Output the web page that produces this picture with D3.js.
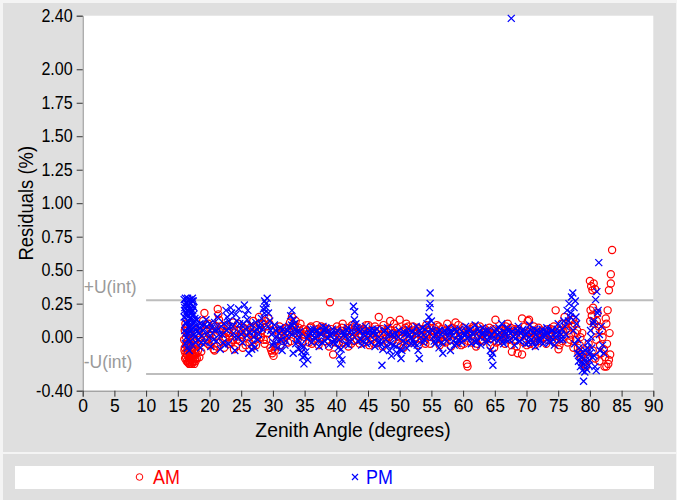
<!DOCTYPE html>
<html>
<head>
<meta charset="utf-8">
<script src="https://cdn.jsdelivr.net/npm/d3@7"></script>
<style>
  html, body { margin: 0; padding: 0; background: #ffffff; }
  svg { display: block; }
  text { font-family: "Liberation Sans", Arial, sans-serif; }
</style>
</head>
<body>
<svg id="chart" width="677" height="500"></svg>
<script>
// Residuals by zenith angle, morning (AM) and afternoon (PM) runs.
const xTicks = [0, 5, 10, 15, 20, 25, 30, 35, 40, 45, 50, 55, 60, 65, 70, 75, 80, 85, 90];
const yTicks = [-0.40, 0.00, 0.25, 0.50, 0.75, 1.00, 1.25, 1.50, 1.75, 2.00, 2.40];
const uInt = 0.275;   // expanded uncertainty of the interval, %
const seriesNames = ["AM", "PM"];

// [zenith angle (deg), residual (%)]
const amPoints = [
  [16.0,-0.02],[16.1,0.05],[16.1,-0.08],[16.2,-0.12],[16.2,0.10],[16.3,-0.15],[16.3,0.00],[16.4,-0.05],[16.4,-0.18],[16.5,0.08],
  [16.5,-0.10],[16.6,-0.19],[16.6,-0.03],[16.7,-0.14],[16.7,0.04],[16.8,-0.20],[16.8,-0.07],[16.9,-0.16],[16.9,0.02],[17.0,-0.19],
  [17.0,-0.11],[17.1,-0.04],[17.1,-0.17],[17.2,0.06],[17.2,-0.20],[17.3,-0.13],[17.3,-0.08],[17.4,-0.18],[17.5,-0.01],[17.5,-0.15],
  [17.6,-0.20],[17.7,-0.12],[17.8,-0.18],[17.9,-0.06],[18.0,-0.16],[18.1,0.03],[18.2,-0.10],[18.4,-0.15],[18.6,0.07],[18.8,-0.03],
  [16.15,-0.16],[16.45,-0.13],[16.75,-0.17],[17.05,-0.06],[17.35,-0.19],[17.65,-0.09],[16.55,0.03],[16.85,-0.12],[17.15,-0.15],
  [16.05,-0.10],[16.35,-0.06],[16.65,-0.11],[16.95,-0.20],[17.25,-0.10],[17.45,-0.14],[17.75,-0.16],[17.95,-0.12],[18.25,-0.05],
  [18.45,0.00],[18.7,-0.11],[16.25,0.07],[16.95,-0.01],[17.55,-0.04],
  [19.0,0.12],[19.2,0.18],[19.4,0.05],[19.6,-0.02],[19.8,0.10],[20.0,-0.06],[20.3,0.03],[20.5,0.09],[20.8,-0.10],[21.0,0.01],
  [21.3,0.21],[21.4,0.17],[21.5,0.13],[21.7,-0.04],[22.0,0.06],[22.3,-0.08],[22.5,0.00],[22.8,0.04],[23.0,-0.05],[23.3,0.08],
  [23.6,-0.02],[23.9,0.05],[24.2,-0.07],[24.5,0.10],[24.8,-0.03],[25.1,0.02],[25.4,0.07],[25.7,-0.06],[26.0,0.09],[26.3,-0.04],
  [26.6,0.03],[26.9,0.12],[27.2,-0.02],[27.5,0.06],[27.8,0.15],[28.1,0.00],[28.4,0.10],[28.7,-0.05],[29.0,0.08],[29.3,0.14],
  [29.6,-0.08],[29.9,-0.12],[30.1,-0.14],[30.3,-0.10],[30.6,-0.03],[30.9,0.02],[31.2,-0.06],[31.5,0.04],[31.8,0.00],[32.1,0.07],
  [32.4,-0.04],[32.7,0.11],[33.0,0.15],[33.3,0.05],[33.6,0.12],[33.9,-0.02],[34.2,0.03],[34.5,-0.08],[34.8,0.06],
  [19.95,0.02],[20.65,-0.09],[21.85,0.08],[22.95,0.03],[23.85,-0.09],[24.95,0.00],[25.85,0.04],[26.85,-0.07],[27.95,0.09],
  [28.95,-0.02],[31.05,0.08],[32.25,0.02],[33.45,0.08],[34.35,0.10],
  [19.15,0.00],[19.55,0.09],[19.75,-0.05],[20.15,0.06],[20.45,-0.03],[20.95,0.08],[21.2,-0.07],[21.6,0.04],[22.15,-0.02],
  [22.65,0.09],[23.15,0.01],[23.45,-0.04],[23.75,0.11],[24.05,0.03],[24.35,-0.02],[24.65,0.05],[25.25,-0.08],[25.55,0.03],
  [26.15,0.00],[26.45,0.07],[26.75,0.02],[27.05,0.08],[27.35,-0.06],[27.65,0.01],[28.25,0.05],[28.55,-0.02],[28.85,0.12],
  [29.15,0.03],[29.45,0.10],[29.75,-0.10],[30.45,-0.07],[30.75,0.05],[31.35,0.01],[31.65,-0.03],[31.95,0.06],[32.55,0.04],
  [32.85,-0.03],[33.15,0.09],[33.75,0.03],[34.05,0.07],[34.65,-0.03],[34.95,0.02],
  [35.1,0.00],[35.4,0.05],[35.7,-0.04],[36.0,0.08],[36.3,-0.02],[36.6,0.03],[36.9,0.09],[37.2,-0.06],[37.5,0.04],[37.8,-0.01],
  [38.1,0.07],[38.4,-0.03],[38.7,0.02],[39.0,0.26],[39.2,0.06],[39.5,-0.13],[39.8,0.01],[40.1,0.08],[40.4,-0.05],[40.7,0.03],
  [41.0,0.10],[41.3,-0.02],[41.6,0.05],[41.9,-0.07],[42.2,0.00],[42.5,0.09],[42.8,-0.03],[43.1,0.04],[43.4,0.07],[43.7,-0.05],
  [44.0,0.02],[44.3,0.06],[44.6,-0.02],[44.9,0.03],[45.2,-0.06],[45.5,0.05],[45.8,0.00],[46.1,0.08],[46.4,-0.04],[46.7,0.15],
  [47.0,0.02],[47.3,-0.07],[47.6,0.04],[47.9,-0.01],[48.2,0.06],[48.5,0.12],[48.8,-0.03],[49.1,0.10],[49.4,0.02],[49.7,-0.05],
  [50.0,0.13],[50.3,0.04],[50.6,-0.08],[50.9,0.07],[51.2,0.00],[51.5,0.05],[51.8,-0.04],[52.1,0.08],[52.4,-0.02],[52.7,0.03],
  [53.0,-0.06],[53.3,0.05],[53.6,0.01],[53.9,-0.03],[54.2,0.09],[54.5,0.04],[54.8,-0.05],[55.1,0.02],[55.4,0.07],[55.7,-0.02],
  [56.0,0.04],[56.3,-0.06],[56.6,0.06],[56.9,0.00],[57.2,-0.04],[57.5,0.10],[57.8,0.03],[58.1,-0.07],[58.4,0.05],[58.8,0.11],
  [59.1,-0.02],[59.4,0.04],[59.7,-0.06],[60.0,0.07],[60.3,0.01],[60.6,-0.20],[60.7,-0.22],[61.0,0.03],[61.3,-0.04],[61.6,0.08],
  [61.9,0.00],[62.2,-0.05],[62.5,0.05],[62.8,0.02],[63.1,-0.03],[63.4,0.06],[63.7,-0.01],[64.0,0.04],[64.3,-0.06],[64.6,0.03],
  [64.9,-0.08],[65.1,0.13],[65.4,0.02],[65.7,-0.03],[66.0,0.06],[66.3,0.00],[66.6,-0.05],[66.9,0.04],[67.2,-0.02],[67.5,0.07],
  [67.7,-0.11],[68.0,-0.03],[68.3,0.05],[68.6,-0.12],[68.9,0.02],[69.3,-0.13],[69.3,0.14],[69.6,-0.04],[69.9,0.03],[70.2,0.12],
  [70.4,0.13],[70.7,-0.02],[71.0,0.05],[71.3,-0.06],[71.6,0.02],[71.9,0.07],[72.2,-0.03],[72.5,0.04],[72.8,0.00],[73.1,-0.05],
  [73.4,0.06],[73.7,0.01],[74.0,-0.02],[74.3,0.08],[74.6,0.20],[74.9,0.03],[75.2,-0.06],[75.5,0.10],[75.8,0.04],
  [35.25,0.04],[36.15,-0.05],[37.05,0.06],[37.95,0.00],[38.85,-0.07],[40.25,0.05],[41.15,-0.04],[42.05,0.07],[43.25,-0.02],
  [44.15,0.05],[45.05,0.09],[45.95,-0.05],[47.15,0.06],[48.05,-0.04],[49.25,0.03],[50.15,-0.06],[51.05,0.10],[51.95,0.02],
  [53.15,0.06],[54.05,-0.05],[55.25,0.00],[56.15,0.08],[57.05,-0.03],[58.25,0.07],[59.25,0.09],[60.15,-0.05],[61.15,0.06],
  [62.05,-0.07],[63.25,0.03],[64.15,0.07],[65.25,-0.04],[66.15,0.05],[67.05,0.10],[68.15,0.06],[69.05,0.00],[70.05,-0.06],
  [71.15,0.08],[72.05,0.03],[73.25,-0.02],[74.15,0.05],[75.05,-0.09],
  [35.55,0.02],[35.85,0.07],[36.45,0.01],[36.75,-0.03],[37.35,0.05],[37.65,0.08],[38.25,0.03],[38.55,0.06],[39.35,0.00],
  [39.65,0.04],[39.95,-0.04],[40.55,0.02],[40.85,0.07],[41.45,0.03],[41.75,0.00],[42.35,-0.05],[42.65,0.04],[42.95,0.08],
  [43.55,0.01],[43.85,0.05],[44.45,-0.04],[44.75,0.09],[45.35,0.02],[45.65,-0.02],[46.25,0.03],[46.55,0.06],[46.85,-0.02],
  [47.45,0.09],[47.75,0.02],[48.35,0.00],[48.65,0.05],[48.95,0.03],[49.55,0.07],[49.85,0.01],[50.45,0.00],[50.75,0.05],
  [51.35,0.08],[51.65,-0.02],[52.25,0.05],[52.55,0.00],[52.85,0.07],[53.45,-0.02],[53.75,0.06],[54.35,0.02],[54.65,0.07],
  [54.95,0.00],[55.55,0.04],[55.85,0.09],[56.45,0.02],[56.75,-0.03],[57.35,0.05],[57.65,0.00],[57.95,0.06],[58.55,0.02],
  [58.95,-0.04],[59.55,0.01],[59.85,0.05],[60.45,0.04],[60.85,-0.03],[61.45,0.02],[61.75,0.07],[62.35,0.01],[62.65,0.08],
  [62.95,-0.02],[63.55,0.04],[63.85,0.00],[64.45,0.02],[64.75,0.06],[65.55,0.05],[65.85,0.00],[66.45,0.03],[66.75,0.08],
  [67.35,0.02],[67.65,-0.06],[67.95,0.04],[68.45,-0.07],[68.75,0.06],[69.45,0.02],[69.75,0.08],[70.35,0.04],[70.55,-0.05],
  [70.85,0.03],[71.45,0.00],[71.75,-0.03],[72.35,0.05],[72.65,-0.01],[72.95,0.03],[73.55,0.02],[73.85,0.06],[74.45,-0.04],
  [74.75,0.01],[75.35,0.05],[75.65,-0.03],
  [76.0,0.15],[76.3,0.06],[76.5,-0.04],[76.8,0.12],[77.0,0.02],[77.2,0.08],[77.4,-0.08],[77.6,0.10],[77.8,-0.02],[78.0,0.05],
  [78.2,-0.12],[78.4,-0.06],[78.6,-0.15],[78.8,0.03],[79.0,-0.20],[79.2,-0.10],[79.4,-0.22],[79.6,-0.16],[80.0,0.42],[80.2,0.38],
  [80.4,0.35],[80.6,0.40],[80.8,0.36],[80.1,0.20],[80.3,0.16],[80.5,0.22],[80.7,0.10],[80.9,0.05],[81.0,-0.02],[81.2,0.18],
  [81.4,0.08],[81.6,-0.06],[81.8,-0.12],[82.0,0.00],[82.2,-0.09],[82.4,-0.15],[82.6,0.10],[82.8,0.20],[82.9,-0.20],[83.0,0.35],
  [83.2,-0.13],[83.3,0.40],[83.3,0.47],[83.5,0.65],[82.6,-0.22],[83.1,0.03],
  [76.2,0.10],[76.6,0.05],[76.9,-0.02],[77.3,0.13],[77.7,0.03],[78.1,-0.08],[78.5,0.00],[78.9,-0.13],[79.3,-0.18],[79.8,-0.05],
  [80.05,0.12],[80.45,-0.10],[80.85,-0.16],[81.1,0.12],[81.5,-0.18],[81.9,0.05],[82.3,-0.22],[82.5,0.14],[82.7,-0.05],[83.0,-0.17]
];

const pmPoints = [
  [16.0,0.28],[16.0,0.15],[16.1,0.22],[16.1,0.05],[16.2,0.29],[16.2,-0.05],[16.3,0.18],[16.3,0.10],[16.4,0.26],[16.4,0.00],
  [16.5,0.20],[16.5,-0.08],[16.6,0.27],[16.6,0.12],[16.7,0.24],[16.7,0.03],[16.8,0.16],[16.8,-0.10],[16.9,0.28],[16.9,0.08],
  [17.0,0.21],[17.0,-0.03],[17.1,0.25],[17.1,0.13],[17.2,0.19],[17.2,0.06],[17.3,0.29],[17.3,-0.06],[17.4,0.23],[17.4,0.10],
  [17.5,0.17],[17.6,0.02],[17.7,0.14],[17.8,-0.04],[17.9,0.09],[18.0,0.04],[18.2,-0.02],[18.4,0.07],[18.6,-0.08],[18.8,0.01],
  [16.05,0.20],[16.35,0.25],[16.65,0.19],[16.95,0.14],[17.25,0.27],[17.55,0.22],[16.25,0.11],[16.75,0.07],
  [16.15,0.24],[16.45,0.16],[16.55,0.29],[16.85,0.22],[17.05,0.18],[17.15,0.08],[17.35,0.20],[17.45,0.27],[17.65,0.12],
  [17.85,0.06],[18.05,0.13],[18.3,0.03],[18.5,0.10],[18.7,-0.04],[16.3,0.03],[16.6,-0.02],[16.9,0.04],[17.7,0.00],
  [19.0,0.05],[19.3,-0.04],[19.6,0.08],[19.9,0.00],[20.2,-0.07],[20.5,0.03],[20.8,0.11],[21.1,-0.03],[21.4,0.06],[21.7,-0.09],
  [22.0,0.02],[22.3,0.10],[22.6,0.20],[22.8,0.15],[23.0,-0.05],[23.2,0.08],[23.5,0.18],[23.8,0.03],[24.0,-0.10],[24.3,0.12],
  [24.6,0.21],[24.9,0.06],[25.2,-0.04],[25.5,0.24],[25.7,0.17],[25.9,0.01],[26.2,-0.12],[26.5,0.09],[26.7,-0.05],[27.0,0.04],
  [27.3,0.11],[27.6,-0.02],[27.9,0.07],[28.2,0.14],[28.5,0.21],[28.7,0.27],[28.9,0.25],[29.1,0.29],[29.3,0.18],[29.5,0.12],
  [29.8,0.02],[30.1,-0.04],[30.4,0.05],[30.7,-0.08],[31.0,0.03],[31.3,-0.02],[31.6,0.06],[31.9,-0.06],[32.2,0.01],[32.5,0.08],
  [32.8,0.16],[33.0,0.20],[33.2,-0.12],[33.4,0.10],[33.6,-0.05],[33.8,0.04],[34.1,0.00],[34.4,-0.06],[34.7,-0.15],[34.9,-0.20],
  [35.2,-0.11],[35.5,-0.17],
  [19.45,0.13],[20.35,0.07],[21.25,0.15],[22.45,-0.06],[23.35,0.22],[24.45,0.00],[25.35,0.10],[26.05,0.20],[27.15,-0.08],
  [28.35,0.06],[30.25,0.09],[31.45,-0.10],[32.65,0.03],[33.25,0.13],[34.05,-0.09],
  [19.15,0.09],[19.75,0.03],[20.05,0.10],[20.65,-0.02],[20.95,0.06],[21.55,0.02],[21.85,0.08],[22.15,-0.04],[22.75,0.05],
  [23.05,0.12],[23.65,0.08],[23.95,0.00],[24.15,0.17],[24.75,0.10],[25.05,0.02],[25.65,0.06],[25.95,0.13],[26.35,0.04],
  [26.65,-0.09],[26.95,0.00],[27.45,0.06],[27.75,0.02],[28.05,0.10],[28.65,0.18],[28.95,0.22],[29.25,0.08],[29.65,0.05],
  [29.95,-0.06],[30.55,0.00],[30.85,-0.03],[31.15,0.07],[31.75,0.03],[32.05,-0.03],[32.35,0.05],[32.95,0.09],[33.05,0.02],
  [33.55,0.06],[33.95,-0.02],[34.25,0.04],[34.55,-0.11],[34.85,-0.07],[35.05,-0.14],
  [35.8,0.03],[36.1,-0.04],[36.4,0.06],[36.7,-0.01],[37.0,0.05],[37.3,-0.07],[37.6,0.02],[37.9,0.08],[38.2,-0.03],[38.5,0.04],
  [38.8,-0.06],[39.1,0.01],[39.4,0.06],[39.7,-0.02],[40.0,0.03],[40.3,-0.08],[40.5,-0.14],[40.7,-0.20],[40.9,-0.17],[41.2,0.02],
  [41.5,-0.05],[41.8,0.07],[42.1,0.00],[42.4,0.05],[42.7,0.23],[42.9,0.19],[43.1,0.10],[43.4,-0.03],[43.7,0.04],[44.0,-0.06],
  [44.3,0.02],[44.6,0.08],[44.9,-0.01],[45.2,0.05],[45.5,-0.04],[45.8,0.03],[46.1,-0.07],[46.4,0.06],[46.7,0.00],[47.0,-0.05],
  [47.2,-0.21],[47.5,0.04],[47.8,-0.02],[48.1,0.07],[48.4,-0.10],[48.7,-0.14],[49.0,-0.06],[49.3,0.03],[49.6,-0.12],[49.9,0.05],
  [50.2,-0.16],[50.5,-0.03],[50.8,0.02],[51.1,-0.08],[51.4,0.06],[51.7,-0.01],[52.0,0.04],[52.3,-0.05],[52.6,0.08],[52.9,-0.10],
  [53.1,-0.16],[53.4,0.03],[53.7,-0.04],[54.0,0.06],[54.3,0.10],[54.6,0.15],[54.7,0.22],[54.8,0.25],[54.8,0.33],[55.0,0.12],
  [55.3,0.00],[55.6,-0.05],[55.9,0.04],[56.2,-0.08],[56.5,0.02],[56.8,-0.12],[57.1,0.05],[57.4,-0.03],[57.7,0.07],[58.0,-0.10],
  [58.3,0.01],[58.6,-0.06],[58.9,0.04],[59.2,-0.02],[59.5,0.06],[59.8,-0.04],[60.1,0.03],[60.4,0.08],[60.7,-0.01],[61.0,0.05],
  [61.3,-0.05],[61.6,0.02],[61.9,0.09],[62.2,-0.03],[62.5,0.04],[62.8,-0.06],[63.1,0.07],[63.4,0.00],[63.7,-0.04],[64.0,0.05],
  [64.3,-0.10],[64.5,-0.15],[64.7,-0.21],[64.9,-0.02],[65.2,0.06],[65.5,-0.03],[65.8,0.03],[66.1,0.10],[66.4,-0.05],[66.7,0.02],
  [67.0,0.07],[67.3,-0.02],[67.6,2.38],[67.8,0.04],[68.1,-0.06],[68.4,0.03],[68.7,0.08],[69.0,-0.03],[69.3,0.05],[69.6,0.00],
  [69.9,-0.05],[70.2,0.04],[70.5,0.09],[70.8,-0.02],[71.1,0.03],[71.4,-0.07],[71.7,0.05],[72.0,-0.01],[72.3,0.04],[72.6,-0.05],
  [72.9,0.02],[73.2,0.07],[73.5,-0.03],[73.8,0.00],[74.1,0.05],[74.4,-0.06],[74.7,0.03],[75.0,0.10],[75.3,-0.02],[75.6,0.06],
  [35.35,-0.01],[36.25,0.04],[37.15,-0.03],[38.05,0.05],[38.95,0.02],[39.85,-0.05],[41.05,0.04],[41.95,-0.06],[43.25,0.07],
  [44.15,-0.03],[45.05,0.03],[45.95,0.05],[46.85,-0.03],[48.25,0.02],[49.15,0.00],[50.05,-0.09],[51.25,0.03],[52.15,-0.02],
  [53.25,0.05],[54.15,0.00],[55.15,0.05],[56.05,-0.02],[57.25,0.03],[58.15,0.04],[59.05,-0.05],[60.25,0.01],[61.15,0.06],
  [62.05,-0.04],[63.25,0.03],[64.15,0.00],[65.05,0.04],[66.25,-0.03],[67.15,0.05],[68.25,-0.01],[69.15,0.03],[70.35,-0.04],
  [71.25,0.06],[72.15,-0.03],[73.05,0.04],[74.25,-0.02],[75.15,0.03],
  [35.65,0.01],[35.95,0.06],[36.55,0.00],[36.85,0.04],[37.45,0.03],[37.75,-0.04],[38.35,0.07],[38.65,-0.01],[39.25,0.03],
  [39.55,-0.04],[40.15,0.05],[40.45,-0.02],[40.75,-0.09],[41.35,0.00],[41.65,0.05],[42.25,-0.03],[42.55,0.02],[42.85,0.13],
  [43.55,0.06],[43.85,-0.02],[44.45,0.04],[44.75,-0.05],[45.35,0.01],[45.65,0.06],[46.25,0.02],[46.55,-0.04],[47.35,-0.09],
  [47.65,0.05],[47.95,-0.06],[48.55,-0.05],[48.85,0.02],[49.45,-0.07],[49.75,0.00],[50.35,-0.10],[50.65,0.04],[50.95,-0.04],
  [51.55,0.02],[51.85,-0.05],[52.45,0.03],[52.75,-0.06],[53.35,0.00],[53.55,0.07],[53.85,-0.02],[54.45,0.04],[54.95,0.06],
  [55.45,-0.03],[55.75,0.02],[56.35,0.05],[56.65,-0.04],[57.55,0.00],[57.85,0.04],[58.45,-0.03],[58.75,0.06],[59.35,0.02],
  [59.65,-0.01],[60.55,0.04],[60.85,0.00],[61.45,0.03],[61.75,-0.03],[62.35,0.06],[62.65,0.00],[62.95,0.03],[63.55,0.05],
  [63.85,-0.02],[64.45,0.02],[64.65,-0.12],[65.35,0.02],[65.65,0.07],[65.95,0.00],[66.55,0.04],[66.85,-0.02],[67.45,0.03],
  [67.95,0.00],[68.55,0.05],[68.85,-0.03],[69.45,0.06],[69.75,0.02],[70.45,0.00],[70.65,0.05],[70.95,-0.04],[71.55,0.02],
  [71.85,-0.03],[72.45,0.06],[72.75,0.00],[73.35,0.03],[73.65,-0.04],[73.95,0.05],[74.55,0.00],[74.85,0.06],[75.45,0.02],
  [75.75,-0.02],
  [75.9,0.12],[76.2,0.02],[76.4,0.20],[76.7,0.25],[76.9,0.15],[77.1,0.30],[77.3,0.33],[77.5,0.22],[77.7,0.27],[77.9,0.10],
  [77.6,-0.05],[78.0,-0.12],[78.2,-0.18],[78.3,-0.08],[78.5,-0.22],[78.6,-0.15],[78.8,-0.25],[79.0,-0.33],[79.1,-0.20],[79.3,-0.10],
  [79.5,-0.24],[79.7,-0.04],[79.9,-0.17],[80.1,0.05],[80.3,-0.08],[80.5,0.10],[80.7,-0.14],[80.9,0.28],[81.1,0.34],[81.4,0.556],
  [81.2,0.18],[81.5,0.02],[81.8,0.08],[82.0,-0.06],[82.2,-0.12],[81.0,-0.25],
  [76.1,0.08],[76.6,0.12],[77.0,0.18],[77.4,0.05],[77.8,0.15],[78.1,-0.02],[78.4,-0.13],[78.7,-0.19],[78.9,-0.11],[79.2,-0.26],
  [79.4,-0.17],[79.6,-0.08],[79.8,-0.21],[80.0,-0.12],[80.2,0.00],[80.4,-0.15],[80.6,0.12],[81.3,0.20],[81.6,-0.10],[80.8,-0.22]
];

const W = 677, H = 500;
const plot = { left: 82.7, right: 653.3, top: 15.7, bottom: 390.7 };
const squeeze = 0.92;   // horizontal text compression used throughout
const amColor = "#ff0000", pmColor = "#0000ff";
const markR = 3.6;

const svg = d3.select("#chart");

// panels
svg.append("rect").attr("x", 0).attr("y", 0).attr("width", W).attr("height", H).attr("fill", "#f4f4f4");
svg.append("rect").attr("x", 3).attr("y", 3).attr("width", 673).attr("height", 449).attr("fill", "#dfdfdf");
svg.append("rect").attr("x", 3).attr("y", 454).attr("width", 673).attr("height", 46).attr("fill", "#dfdfdf");

const x = d3.scaleLinear().domain([0, 90]).range([plot.left, plot.right]);
const y = d3.scaleLinear().domain([-0.4, 2.4]).range([plot.bottom, plot.top]);

svg.append("rect")
  .attr("x", plot.left).attr("y", plot.top)
  .attr("width", plot.right - plot.left).attr("height", plot.bottom - plot.top)
  .attr("fill", "#ffffff");

// uncertainty bounds
const bounds = [uInt, -uInt];
svg.append("g").selectAll("line").data(bounds).join("line")
  .attr("x1", x(10)).attr("x2", x(90))
  .attr("y1", d => y(d)).attr("y2", d => y(d))
  .attr("stroke", "#bdbdbd").attr("stroke-width", 2);

function label(g, tx, ty, str, opts) {
  return g.append("text")
    .attr("transform", `translate(${tx},${ty}) scale(${squeeze},1)`)
    .attr("text-anchor", opts.anchor || "start")
    .attr("font-size", opts.size)
    .attr("fill", opts.fill || "#000")
    .text(str);
}
label(svg, plot.left + 1, 293, "+U(int)", { size: 19, fill: "#9a9a9a" });
label(svg, plot.left + 1, 368, "-U(int)", { size: 19, fill: "#9a9a9a" });

// axes
const yAxis = d3.axisLeft(y).tickValues(yTicks).tickFormat(d => d.toFixed(2)).tickSizeOuter(0).tickSize(6).tickPadding(4);
const xAxis = d3.axisBottom(x).tickValues(xTicks).tickFormat(d => String(d)).tickSizeOuter(0).tickSize(6).tickPadding(3);

const gy = svg.append("g").attr("transform", `translate(${plot.left},0)`).call(yAxis);
const gx = svg.append("g").attr("transform", `translate(0,${plot.bottom})`).call(xAxis);
[gx, gy].forEach(g => {
  g.select(".domain").attr("stroke", "#8a8a8a").attr("stroke-width", 1);
  g.selectAll(".tick line").attr("stroke", "#333");
  g.selectAll(".tick text")
    .attr("font-family", "Liberation Sans, Arial, sans-serif")
    .attr("font-size", 17.5).attr("fill", "#000");
});
gy.selectAll(".tick text").attr("transform", `scale(${squeeze},1)`).attr("x", -10 / squeeze);

// axis titles
label(svg, 353, 437, "Zenith Angle (degrees)", { size: 21, anchor: "middle" });
svg.append("text")
  .attr("transform", `translate(33,${(plot.top + plot.bottom) / 2}) rotate(-90) scale(${squeeze},1)`)
  .attr("text-anchor", "middle").attr("font-size", 20).text("Residuals (%)");

// marks
const crossPath = r => `M${-r},${-r}L${r},${r}M${-r},${r}L${r},${-r}`;
svg.append("g").selectAll("circle").data(amPoints).join("circle")
  .attr("cx", d => x(d[0])).attr("cy", d => y(d[1])).attr("r", markR)
  .attr("fill", "none").attr("stroke", amColor).attr("stroke-width", 1.2);
svg.append("g").selectAll("path").data(pmPoints).join("path")
  .attr("transform", d => `translate(${x(d[0])},${y(d[1])})`)
  .attr("d", crossPath(3.5))
  .attr("fill", "none").attr("stroke", pmColor).attr("stroke-width", 1.3);

// legend
svg.append("rect").attr("x", 15).attr("y", 466).attr("width", 639).attr("height", 23).attr("fill", "#ffffff");
const legend = [
  { name: seriesNames[0], color: amColor, mx: 139.5, tx: 153 },
  { name: seriesNames[1], color: pmColor, mx: 355, tx: 366 }
];
legend.forEach((d, i) => {
  if (i === 0) {
    svg.append("circle").attr("cx", d.mx).attr("cy", 477).attr("r", 3.3)
      .attr("fill", "none").attr("stroke", d.color).attr("stroke-width", 1);
  } else {
    svg.append("path").attr("transform", `translate(${d.mx},477)`).attr("d", crossPath(3))
      .attr("fill", "none").attr("stroke", d.color).attr("stroke-width", 1.2);
  }
  label(svg, d.tx, 484, d.name, { size: 19.5, fill: d.color });
});
</script>
</body>
</html>
